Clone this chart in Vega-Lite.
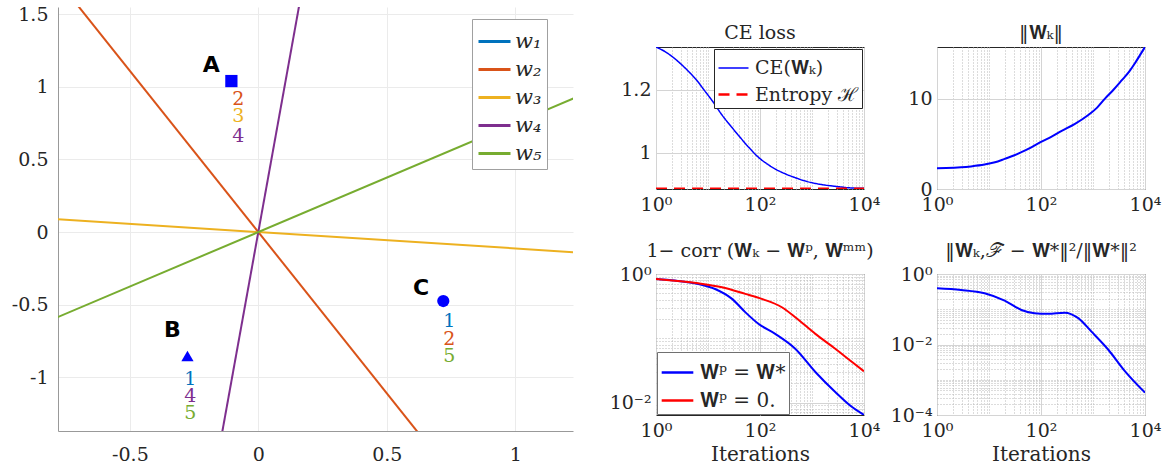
{
  "$schema": "https://vega.github.io/schema/vega-lite/v6.json",
  "background": "white",
  "padding": {"left": 8, "top": 5, "right": 0, "bottom": 0},
  "spacing": 34,
  "resolve": {"scale": {"color": "independent", "strokeDash": "independent", "strokeWidth": "independent", "shape": "independent"}, "legend": {"color": "independent", "strokeDash": "independent"}},
  "datasets": {
    "lines": [
      {"w": "w₂", "x": -0.72, "y": 1.598}, {"w": "w₂", "x": 0.64, "y": -1.421},
      {"w": "w₃", "x": -0.8, "y": 0.0904}, {"w": "w₃", "x": 1.25, "y": -0.141},
      {"w": "w₄", "x": -0.148, "y": -1.45}, {"w": "w₄", "x": 0.163, "y": 1.6},
      {"w": "w₅", "x": -0.8, "y": -0.6}, {"w": "w₅", "x": 1.25, "y": 0.9375}
    ],
    "pts": [
      {"p": "A", "x": -0.105, "y": 1.04},
      {"p": "B", "x": -0.276, "y": -0.853},
      {"p": "C", "x": 0.72, "y": -0.475}
    ],
    "letters": [
      {"t": "A", "x": -0.183, "y": 1.149},
      {"t": "B", "x": -0.335, "y": -0.674},
      {"t": "C", "x": 0.634, "y": -0.385}
    ],
    "nums": [
      {"n": "2", "w": "w₂", "x": -0.078, "y": 0.915},
      {"n": "3", "w": "w₃", "x": -0.078, "y": 0.8},
      {"n": "4", "w": "w₄", "x": -0.078, "y": 0.665},
      {"n": "1", "w": "w₁", "x": -0.265, "y": -1.01},
      {"n": "4", "w": "w₄", "x": -0.265, "y": -1.128},
      {"n": "5", "w": "w₅", "x": -0.265, "y": -1.245},
      {"n": "1", "w": "w₁", "x": 0.743, "y": -0.612},
      {"n": "2", "w": "w₂", "x": 0.743, "y": -0.736},
      {"n": "5", "w": "w₅", "x": 0.743, "y": -0.853}
    ],
    "ce": [
      {"s": "CE(𝐖ₖ)", "it": 1, "v": 1.337}, {"s": "CE(𝐖ₖ)", "it": 1.5, "v": 1.322},
      {"s": "CE(𝐖ₖ)", "it": 2.1, "v": 1.305}, {"s": "CE(𝐖ₖ)", "it": 3, "v": 1.283},
      {"s": "CE(𝐖ₖ)", "it": 4.35, "v": 1.257}, {"s": "CE(𝐖ₖ)", "it": 6, "v": 1.232},
      {"s": "CE(𝐖ₖ)", "it": 8.4, "v": 1.2}, {"s": "CE(𝐖ₖ)", "it": 12, "v": 1.166},
      {"s": "CE(𝐖ₖ)", "it": 19, "v": 1.118}, {"s": "CE(𝐖ₖ)", "it": 28, "v": 1.083},
      {"s": "CE(𝐖ₖ)", "it": 39.5, "v": 1.053}, {"s": "CE(𝐖ₖ)", "it": 60, "v": 1.018},
      {"s": "CE(𝐖ₖ)", "it": 95, "v": 0.984}, {"s": "CE(𝐖ₖ)", "it": 140, "v": 0.963},
      {"s": "CE(𝐖ₖ)", "it": 200, "v": 0.947}, {"s": "CE(𝐖ₖ)", "it": 300, "v": 0.933},
      {"s": "CE(𝐖ₖ)", "it": 478, "v": 0.92}, {"s": "CE(𝐖ₖ)", "it": 800, "v": 0.908},
      {"s": "CE(𝐖ₖ)", "it": 1550, "v": 0.898}, {"s": "CE(𝐖ₖ)", "it": 3000, "v": 0.892},
      {"s": "CE(𝐖ₖ)", "it": 5000, "v": 0.888}, {"s": "CE(𝐖ₖ)", "it": 10000, "v": 0.886},
      {"s": "Entropy ℋ", "it": 1, "v": 0.885}, {"s": "Entropy ℋ", "it": 10000, "v": 0.885}
    ],
    "norm": [
      {"it": 1, "v": 2.3}, {"it": 1.5, "v": 2.32}, {"it": 2.9, "v": 2.4}, {"it": 4.5, "v": 2.5},
      {"it": 8.2, "v": 2.7}, {"it": 13, "v": 2.95}, {"it": 20, "v": 3.33}, {"it": 30, "v": 3.7},
      {"it": 42, "v": 4.07}, {"it": 65, "v": 4.6}, {"it": 100, "v": 5.2}, {"it": 160, "v": 5.8},
      {"it": 245, "v": 6.4}, {"it": 450, "v": 7.2}, {"it": 800, "v": 8.15}, {"it": 1200, "v": 9.0},
      {"it": 1700, "v": 10.0}, {"it": 2500, "v": 11.0}, {"it": 3550, "v": 12.0}, {"it": 5000, "v": 13.0},
      {"it": 6400, "v": 13.9}, {"it": 8000, "v": 14.8}, {"it": 10000, "v": 15.7}
    ],
    "corr": [
      {"s": "𝐖ᵖ = 𝐖*", "it": 1, "v": 0.836}, {"s": "𝐖ᵖ = 𝐖*", "it": 2.3, "v": 0.79},
      {"s": "𝐖ᵖ = 𝐖*", "it": 6.5, "v": 0.7}, {"s": "𝐖ᵖ = 𝐖*", "it": 13.7, "v": 0.585},
      {"s": "𝐖ᵖ = 𝐖*", "it": 29, "v": 0.41}, {"s": "𝐖ᵖ = 𝐖*", "it": 52, "v": 0.255},
      {"s": "𝐖ᵖ = 𝐖*", "it": 93, "v": 0.168}, {"s": "𝐖ᵖ = 𝐖*", "it": 196, "v": 0.117},
      {"s": "𝐖ᵖ = 𝐖*", "it": 476, "v": 0.0687}, {"s": "𝐖ᵖ = 𝐖*", "it": 1160, "v": 0.0299},
      {"s": "𝐖ᵖ = 𝐖*", "it": 2800, "v": 0.0146}, {"s": "𝐖ᵖ = 𝐖*", "it": 5900, "v": 0.0085},
      {"s": "𝐖ᵖ = 𝐖*", "it": 10000, "v": 0.0064},
      {"s": "𝐖ᵖ = 0.", "it": 1, "v": 0.836}, {"s": "𝐖ᵖ = 0.", "it": 6.5, "v": 0.716},
      {"s": "𝐖ᵖ = 0.", "it": 18.6, "v": 0.621}, {"s": "𝐖ᵖ = 0.", "it": 52, "v": 0.49},
      {"s": "𝐖ᵖ = 0.", "it": 108, "v": 0.41}, {"s": "𝐖ᵖ = 0.", "it": 263, "v": 0.304},
      {"s": "𝐖ᵖ = 0.", "it": 476, "v": 0.213}, {"s": "𝐖ᵖ = 0.", "it": 1160, "v": 0.117},
      {"s": "𝐖ᵖ = 0.", "it": 2800, "v": 0.0687}, {"s": "𝐖ᵖ = 0.", "it": 5900, "v": 0.0427},
      {"s": "𝐖ᵖ = 0.", "it": 10000, "v": 0.0306}
    ],
    "dist": [
      {"it": 1, "v": 0.393}, {"it": 2.9, "v": 0.352}, {"it": 8.2, "v": 0.284}, {"it": 20, "v": 0.176},
      {"it": 42, "v": 0.0955}, {"it": 75, "v": 0.077}, {"it": 136, "v": 0.074}, {"it": 285, "v": 0.08},
      {"it": 520, "v": 0.056}, {"it": 935, "v": 0.0231}, {"it": 1970, "v": 0.0071}, {"it": 4100, "v": 0.00176},
      {"it": 10000, "v": 0.00043}
    ]
  },
  "config": {
    "font": "DejaVu Serif",
    "view": {"stroke": "#262626"},
    "axis": {
      "labelColor": "#262626", "titleColor": "#262626", "titleFontWeight": "normal",
      "labelFontSize": 19, "titleFontSize": 20, "ticks": false, "domain": false,
      "labelFlush": false, "labelOverlap": false, "labelPadding": 5
    },
    "title": {"fontWeight": "normal", "fontSize": 19, "color": "#262626", "offset": 4},
    "legend": {"labelColor": "#262626", "labelFont": "DejaVu Serif"}
  },
  "hconcat": [
    {
      "width": 515, "height": 424,
      "view": {"stroke": null},
      "layer": [
        {
          "data": {"name": "lines"},
          "mark": {"type": "line", "clip": true, "strokeWidth": 2},
          "encoding": {
            "x": {"field": "x", "type": "quantitative",
              "scale": {"domain": [-0.78, 1.225], "nice": false, "zero": false},
              "axis": {"values": [-0.5, 0, 0.5, 1], "labelExpr": "toString(datum.value)", "grid": true, "gridColor": "#ebebeb", "domain": true, "domainColor": "#999999", "labelFontSize": 19, "labelPadding": 14, "title": null}},
            "y": {"field": "y", "type": "quantitative",
              "scale": {"domain": [-1.37, 1.55], "nice": false, "zero": false},
              "axis": {"values": [-1, -0.5, 0, 0.5, 1, 1.5], "labelExpr": "toString(datum.value)", "grid": true, "gridColor": "#ebebeb", "domain": true, "domainColor": "#999999", "labelFontSize": 19, "labelPadding": 10, "title": null, "minExtent": 50, "maxExtent": 50}},
            "color": {"field": "w", "type": "nominal",
              "scale": {"domain": ["w₁", "w₂", "w₃", "w₄", "w₅"], "range": ["#0072BD", "#D95319", "#EDB120", "#7E2F8E", "#77AC30"]},
              "legend": {"title": null, "orient": "none", "legendX": 414, "legendY": 12, "strokeColor": "#a0a0a0", "fillColor": "white", "padding": 5, "symbolType": "stroke", "symbolSize": 1024, "symbolStrokeWidth": 3, "labelFontSize": 21, "labelFontStyle": "italic", "rowPadding": 0, "labelOffset": 3}}
          }
        },
        {
          "data": {"name": "pts"},
          "mark": {"type": "point", "filled": true, "opacity": 1, "size": 150, "color": "#0000ff"},
          "encoding": {
            "x": {"field": "x", "type": "quantitative"},
            "y": {"field": "y", "type": "quantitative"},
            "shape": {"field": "p", "type": "nominal", "scale": {"domain": ["A", "B", "C"], "range": ["square", "triangle-up", "circle"]}, "legend": null}
          }
        },
        {
          "data": {"name": "letters"},
          "mark": {"type": "text", "font": "DejaVu Sans", "fontWeight": "bold", "fontSize": 22, "color": "black"},
          "encoding": {
            "x": {"field": "x", "type": "quantitative"},
            "y": {"field": "y", "type": "quantitative"},
            "text": {"field": "t"}
          }
        },
        {
          "data": {"name": "nums"},
          "mark": {"type": "text", "fontSize": 19},
          "encoding": {
            "x": {"field": "x", "type": "quantitative"},
            "y": {"field": "y", "type": "quantitative"},
            "text": {"field": "n"},
            "color": {"field": "w", "type": "nominal"}
          }
        }
      ]
    },
    {
      "spacing": 15,
      "resolve": {"scale": {"color": "independent", "strokeDash": "independent", "strokeWidth": "independent"}, "legend": {"color": "independent", "strokeDash": "independent"}},
      "vconcat": [
        {
          "width": 10, "height": 1,
          "view": {"stroke": null},
          "data": {"values": []},
          "mark": "point"
        },
        {
          "spacing": 26,
          "resolve": {"scale": {"color": "independent", "strokeDash": "independent", "strokeWidth": "independent"}, "legend": {"color": "independent", "strokeDash": "independent"}},
          "vconcat": [
            {
              "bounds": "flush", "spacing": 73,
              "resolve": {"scale": {"color": "independent", "strokeDash": "independent", "strokeWidth": "independent"}, "legend": {"color": "independent", "strokeDash": "independent"}},
              "hconcat": [
                {
                  "width": 208, "height": 142, "title": "CE loss",
                  "data": {"name": "ce"},
                  "mark": {"type": "line", "clip": true, "interpolate": "monotone"},
                  "encoding": {
                    "x": {"field": "it", "type": "quantitative", "scale": {"type": "log", "domain": [1, 10000], "nice": false},
                      "axis": {"values": [1,2,3,4,5,6,7,8,9,10,20,30,40,50,60,70,80,90,100,200,300,400,500,600,700,800,900,1000,2000,3000,4000,5000,6000,7000,8000,9000,10000],
                        "labelExpr": "datum.value==1?'10⁰':datum.value==100?'10²':datum.value==10000?'10⁴':''",
                        "grid": true,
                        "gridColor": {"condition": {"test": "datum.value==1||datum.value==100||datum.value==10000", "value": "#d4d4d4"}, "value": "#b8b8b8"},
                        "gridDash": {"condition": {"test": "datum.value==1||datum.value==100||datum.value==10000", "value": []}, "value": [1, 2]},
                        "title": null, "labelPadding": 6}},
                    "y": {"field": "v", "type": "quantitative", "scale": {"domain": [0.884, 1.337], "nice": false, "zero": false},
                      "axis": {"values": [1, 1.2], "labelExpr": "toString(datum.value)", "grid": true, "gridColor": "#d4d4d4", "title": null, "minExtent": 48, "maxExtent": 48}},
                    "color": {"field": "s", "type": "nominal", "scale": {"domain": ["CE(𝐖ₖ)", "Entropy ℋ"], "range": ["#0000ff", "#ff0000"]},
                      "legend": {"title": null, "orient": "top-right", "offset": 2, "strokeColor": "#262626", "fillColor": "white", "padding": 3, "symbolType": "stroke", "symbolSize": 900, "symbolStrokeWidth": 2, "labelFontSize": 19, "rowPadding": 0, "labelOffset": 5}},
                    "strokeDash": {"field": "s", "type": "nominal", "scale": {"domain": ["CE(𝐖ₖ)", "Entropy ℋ"], "range": [[1, 0], [11, 7]]}},
                    "strokeWidth": {"field": "s", "type": "nominal", "scale": {"domain": ["CE(𝐖ₖ)", "Entropy ℋ"], "range": [1.5, 2.5]}, "legend": null}
                  }
                },
                {
                  "width": 208, "height": 142, "title": "‖𝐖ₖ‖",
                  "data": {"name": "norm"},
                  "mark": {"type": "line", "clip": true, "interpolate": "monotone", "color": "#0000ff", "strokeWidth": 2},
                  "encoding": {
                    "x": {"field": "it", "type": "quantitative", "scale": {"type": "log", "domain": [1, 10000], "nice": false},
                      "axis": {"values": [1,2,3,4,5,6,7,8,9,10,20,30,40,50,60,70,80,90,100,200,300,400,500,600,700,800,900,1000,2000,3000,4000,5000,6000,7000,8000,9000,10000],
                        "labelExpr": "datum.value==1?'10⁰':datum.value==100?'10²':datum.value==10000?'10⁴':''",
                        "grid": true,
                        "gridColor": {"condition": {"test": "datum.value==1||datum.value==100||datum.value==10000", "value": "#d4d4d4"}, "value": "#b8b8b8"},
                        "gridDash": {"condition": {"test": "datum.value==1||datum.value==100||datum.value==10000", "value": []}, "value": [1, 2]},
                        "title": null, "labelPadding": 6}},
                    "y": {"field": "v", "type": "quantitative", "scale": {"domain": [0, 15.7], "nice": false, "zero": false},
                      "axis": {"values": [0, 10], "labelExpr": "toString(datum.value)", "grid": true, "gridColor": "#d4d4d4", "title": null, "minExtent": 48, "maxExtent": 48}}
                  }
                }
              ]
            },
            {
              "bounds": "flush", "spacing": 73,
              "resolve": {"scale": {"color": "independent", "strokeDash": "independent", "strokeWidth": "independent"}, "legend": {"color": "independent", "strokeDash": "independent"}},
              "hconcat": [
                {
                  "width": 208, "height": 141, "title": "1− corr (𝐖ₖ − 𝐖ᵖ, 𝐖ᵐᵐ)",
                  "data": {"name": "corr"},
                  "mark": {"type": "line", "clip": true, "interpolate": "monotone", "strokeWidth": 2},
                  "encoding": {
                    "x": {"field": "it", "type": "quantitative", "scale": {"type": "log", "domain": [1, 10000], "nice": false},
                      "axis": {"values": [1,2,3,4,5,6,7,8,9,10,20,30,40,50,60,70,80,90,100,200,300,400,500,600,700,800,900,1000,2000,3000,4000,5000,6000,7000,8000,9000,10000],
                        "labelExpr": "datum.value==1?'10⁰':datum.value==100?'10²':datum.value==10000?'10⁴':''",
                        "grid": true,
                        "gridColor": {"condition": {"test": "datum.value==1||datum.value==100||datum.value==10000", "value": "#d4d4d4"}, "value": "#b8b8b8"},
                        "gridDash": {"condition": {"test": "datum.value==1||datum.value==100||datum.value==10000", "value": []}, "value": [1, 2]},
                        "title": "Iterations", "titlePadding": 4, "labelPadding": 6}},
                    "y": {"field": "v", "type": "quantitative", "scale": {"type": "log", "domain": [0.0064, 1], "nice": false},
                      "axis": {"values": [0.007,0.008,0.009,0.01,0.02,0.03,0.04,0.05,0.06,0.07,0.08,0.09,0.1,0.2,0.3,0.4,0.5,0.6,0.7,0.8,0.9,1],
                        "labelExpr": "datum.value==1?'10⁰':datum.value==0.01?'10⁻²':''",
                        "grid": true,
                        "gridColor": {"condition": {"test": "datum.value==1||datum.value==0.01", "value": "#d4d4d4"}, "value": "#b8b8b8"},
                        "gridDash": {"condition": {"test": "datum.value==1||datum.value==0.01", "value": []}, "value": [1, 2]},
                        "title": null, "minExtent": 48, "maxExtent": 48}},
                    "color": {"field": "s", "type": "nominal", "scale": {"domain": ["𝐖ᵖ = 𝐖*", "𝐖ᵖ = 0."], "range": ["#0000ff", "#ff0000"]},
                      "legend": {"title": null, "orient": "bottom-left", "offset": 1, "strokeColor": "#707070", "fillColor": "white", "padding": 3, "symbolType": "stroke", "symbolSize": 1000, "symbolStrokeWidth": 2.5, "labelFontSize": 20, "rowPadding": 0, "labelOffset": 5}}
                  }
                },
                {
                  "width": 208, "height": 141, "title": "‖𝐖ₖ,ℱ − 𝐖*‖²/‖𝐖*‖²",
                  "data": {"name": "dist"},
                  "mark": {"type": "line", "clip": true, "interpolate": "monotone", "color": "#0000ff", "strokeWidth": 2},
                  "encoding": {
                    "x": {"field": "it", "type": "quantitative", "scale": {"type": "log", "domain": [1, 10000], "nice": false},
                      "axis": {"values": [1,2,3,4,5,6,7,8,9,10,20,30,40,50,60,70,80,90,100,200,300,400,500,600,700,800,900,1000,2000,3000,4000,5000,6000,7000,8000,9000,10000],
                        "labelExpr": "datum.value==1?'10⁰':datum.value==100?'10²':datum.value==10000?'10⁴':''",
                        "grid": true,
                        "gridColor": {"condition": {"test": "datum.value==1||datum.value==100||datum.value==10000", "value": "#d4d4d4"}, "value": "#b8b8b8"},
                        "gridDash": {"condition": {"test": "datum.value==1||datum.value==100||datum.value==10000", "value": []}, "value": [1, 2]},
                        "title": "Iterations", "titlePadding": 4, "labelPadding": 6}},
                    "y": {"field": "v", "type": "quantitative", "scale": {"type": "log", "domain": [0.0001, 1], "nice": false},
                      "axis": {"values": [0.0001,0.0002,0.0003,0.0004,0.0005,0.0006,0.0007,0.0008,0.0009,0.001,0.002,0.003,0.004,0.005,0.006,0.007,0.008,0.009,0.01,0.02,0.03,0.04,0.05,0.06,0.07,0.08,0.09,0.1,0.2,0.3,0.4,0.5,0.6,0.7,0.8,0.9,1],
                        "labelExpr": "datum.value==1?'10⁰':datum.value==0.01?'10⁻²':datum.value==0.0001?'10⁻⁴':''",
                        "grid": true,
                        "gridColor": {"condition": {"test": "datum.value==1||datum.value==0.01||datum.value==0.0001", "value": "#d4d4d4"}, "value": "#b8b8b8"},
                        "gridDash": {"condition": {"test": "datum.value==1||datum.value==0.01||datum.value==0.0001", "value": []}, "value": [1, 2]},
                        "title": null, "minExtent": 48, "maxExtent": 48}}
                  }
                }
              ]
            }
          ]
        }
      ]
    }
  ]
}
